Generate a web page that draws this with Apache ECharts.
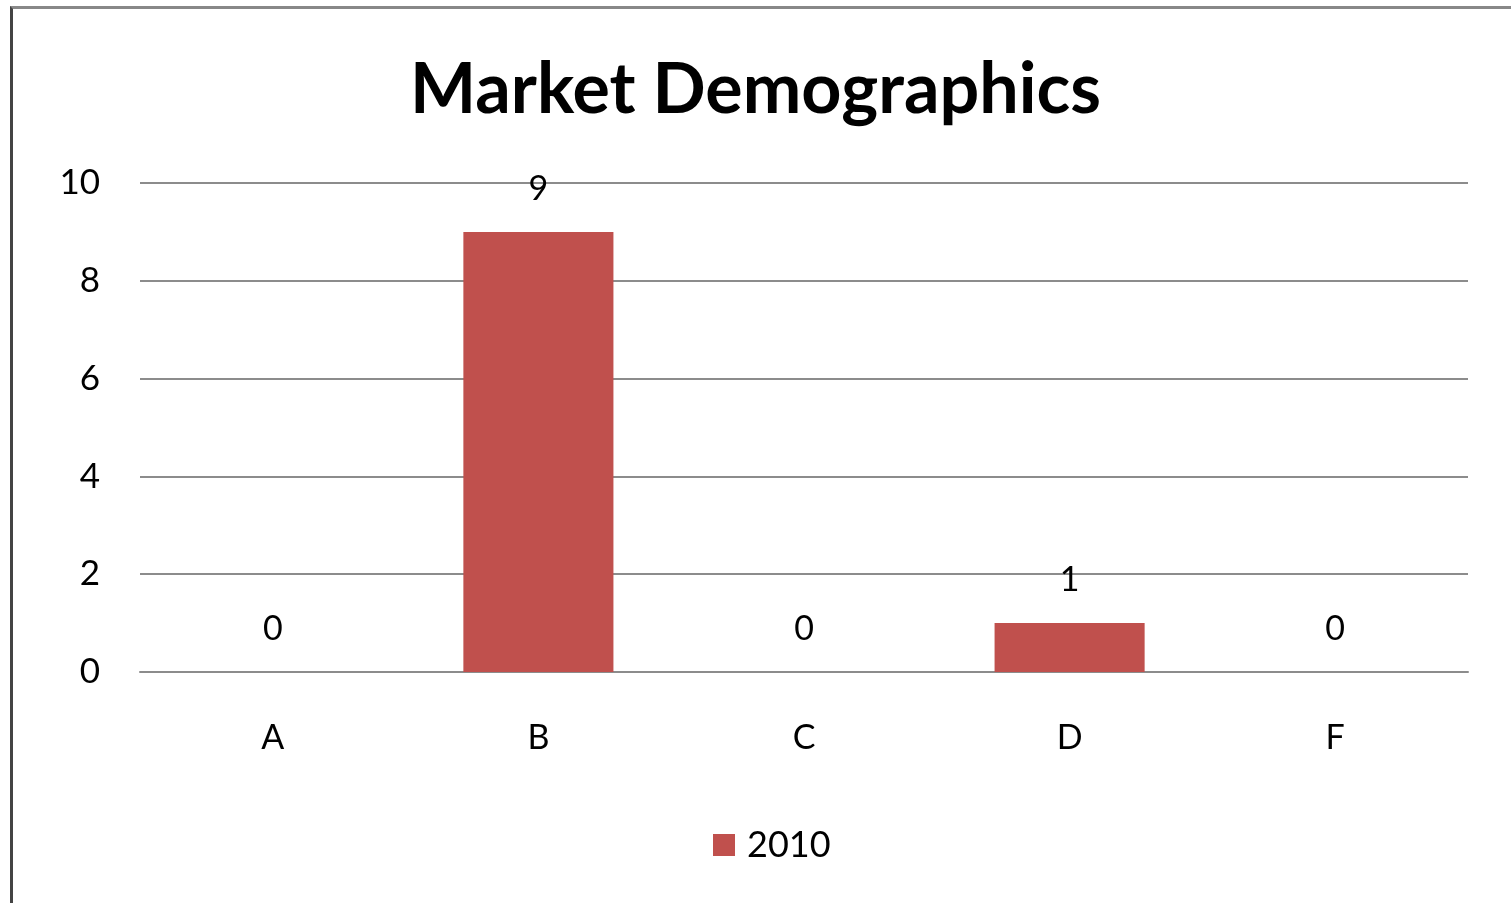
<!DOCTYPE html>
<html>
<head>
<meta charset="utf-8">
<script src="https://cdn.jsdelivr.net/npm/echarts@6/dist/echarts.min.js"></script>
<style>
  html, body { margin: 0; padding: 0; background: #fff; }
  #frame {
    position: absolute; left: 10px; top: 6px; width: 1498px; height: 897px;
    border-top: 3px solid #888; border-left: 3px solid #444; border-right: 1px solid #ddd;
  }
  #chart { position: absolute; left: 0; top: 0; width: 1511px; height: 903px; }
</style>
</head>
<body>
<div id="frame"></div>
<div id="chart"></div>
<script>
// Market demographics, one series (2010)
const categories = ["A", "B", "C", "D", "F"]
const values2010 = [0, 9, 0, 1, 0]
const seriesName = "2010"

const BAR_RED = "#C0504D"
const GRID_GRAY = "#8C8C8C"
const FONT = "Lato, 'Open Sans', sans-serif"

const chart = echarts.init(document.getElementById("chart"))

chart.setOption({
  animation: false,
  title: {
    text: "Market Demographics",
    left: "center",
    top: 50,
    textStyle: {fontFamily: FONT, fontWeight: "bold", fontSize: 70, color: "#000"},
  },
  legend: {
    bottom: 35,
    left: 708,
    itemWidth: 22,
    itemHeight: 22,
    itemGap: 12,
    icon: "rect",
    textStyle: {fontFamily: FONT, fontSize: 36, color: "#000", padding: [0, 0, 0, 7]},
    data: [seriesName],
  },
  grid: {left: 140, right: 43, top: 183, bottom: 231},
  xAxis: {
    type: "category",
    data: categories,
    axisLine: {lineStyle: {color: GRID_GRAY, width: 2}},
    axisTick: {show: false},
    axisLabel: {fontFamily: FONT, fontSize: 34, color: "#000", margin: 49},
  },
  yAxis: {
    type: "value",
    min: 0,
    max: 10,
    interval: 2,
    axisLine: {show: false},
    axisTick: {show: false},
    splitLine: {lineStyle: {color: GRID_GRAY, width: 2}},
    axisLabel: {fontFamily: FONT, fontSize: 35, color: "#000", margin: 40},
  },
  series: [
    {
      name: seriesName,
      type: "bar",
      data: values2010,
      barWidth: "56.5%",
      itemStyle: {color: BAR_RED},
      label: {
        show: true,
        position: "top",
        distance: 26,
        fontFamily: FONT,
        fontSize: 34,
        color: "#000",
      },
    },
  ],
})
</script>
</body>
</html>
